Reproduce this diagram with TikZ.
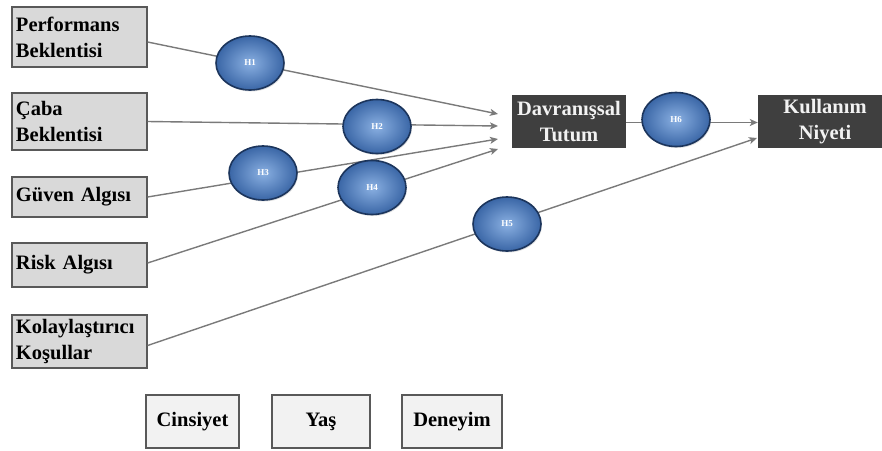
\documentclass[tikz,border=0pt]{standalone}
\usepackage{fontspec}
\setmainfont{Liberation Serif}
\usetikzlibrary{shapes.geometric,arrows.meta,calc,shadows}
\definecolor{boxfill}{HTML}{D9D9D9}
\definecolor{boxline}{HTML}{595959}
\definecolor{modfill}{HTML}{F2F2F2}
\definecolor{darkfill}{HTML}{3F3F3F}
\definecolor{linegray}{HTML}{7A7A7A}
\definecolor{hinner}{HTML}{8AB0E2}
\definecolor{houter}{HTML}{3A66A6}
\definecolor{hrim}{HTML}{1C355C}
\begin{document}
\begin{tikzpicture}[x=1pt,y=-1pt,
  txt/.style={font=\fontsize{20.5}{26}\selectfont\bfseries},
  leftbox/.style={txt,draw=boxline,line width=1.2pt,fill=boxfill,minimum width=135pt,text width=127pt,inner sep=4pt,align=left,anchor=center},
  modbox/.style={txt,draw=boxline,line width=1.2pt,fill=modfill,minimum height=53pt,inner sep=2pt,align=center},
  darkbox/.style={txt,fill=darkfill,text=white!95!black,minimum height=53pt,inner sep=1pt,align=center},
  hyp/.style={ellipse,draw=hrim,line width=1.6pt,inner color=hinner,outer color=houter,minimum width=68pt,minimum height=54pt,inner sep=0pt,text=white,font=\fontsize{9}{10}\selectfont\bfseries,drop shadow={opacity=0.25,shadow xshift=1pt,shadow yshift=-1.5pt}},
  conn/.style={draw=linegray,line width=1.4pt},
  arr/.style={conn,-{Stealth[length=8pt,width=7pt,inset=2pt]}}
]
\useasboundingbox (0,0) rectangle (882,450);
% left boxes
\node[leftbox,minimum height=60pt] (pe) at (79.5,37) {Performans\\Beklentisi};
\node[leftbox,minimum height=57pt] (cb) at (79.5,121.5) {Çaba\\Beklentisi};
\node[leftbox,minimum height=40pt] (ga) at (79.5,197) {Güven Algısı};
\node[leftbox,minimum height=44pt] (ra) at (79.5,265) {Risk Algısı};
\node[leftbox,minimum height=53pt] (ko) at (79.5,341.5) {Kolaylaştırıcı\\Koşullar};
% moderators
\node[modbox,minimum width=93pt] (ci) at (192.5,421.5) {Cinsiyet};
\node[modbox,minimum width=98pt] (ya) at (321,421.5) {Yaş};
\node[modbox,minimum width=100pt] (de) at (452,421.5) {Deneyim};
% dark boxes
\node[darkbox,minimum width=114pt] (dt) at (569,121.5) {Davranışsal\\Tutum};
\node[darkbox,minimum width=134pt] (ku) at (825,121.5) {Kullanım\\Niyeti};
% arrow targets
\coordinate (t1) at (498,114);
\coordinate (t2) at (498,126);
\coordinate (t3) at (498,139);
\coordinate (t4) at (498,149);
\coordinate (t5) at (757,138);
% connectors
\draw[arr] ([yshift=-5pt]pe.east) -- (t1);
\draw[arr] (cb.east) -- (t2);
\draw[arr] (ga.east) -- (t3);
\draw[arr] ([yshift=2pt]ra.east) -- (t4);
\draw[arr] ([yshift=-4pt]ko.east) -- (t5);
\draw[arr] ([yshift=-1pt]dt.east) -- ([yshift=-1pt]ku.west);
% hypotheses
\node[hyp] (h1) at (250,63) {H1};
\node[hyp] (h2) at (377,126.5) {H2};
\node[hyp] (h3) at (263,173) {H3};
\node[hyp] (h4) at (372,187.5) {H4};
\node[hyp] (h5) at (507,224) {H5};
\node[hyp] (h6) at (676,119.5) {H6};
\end{tikzpicture}
\end{document}
